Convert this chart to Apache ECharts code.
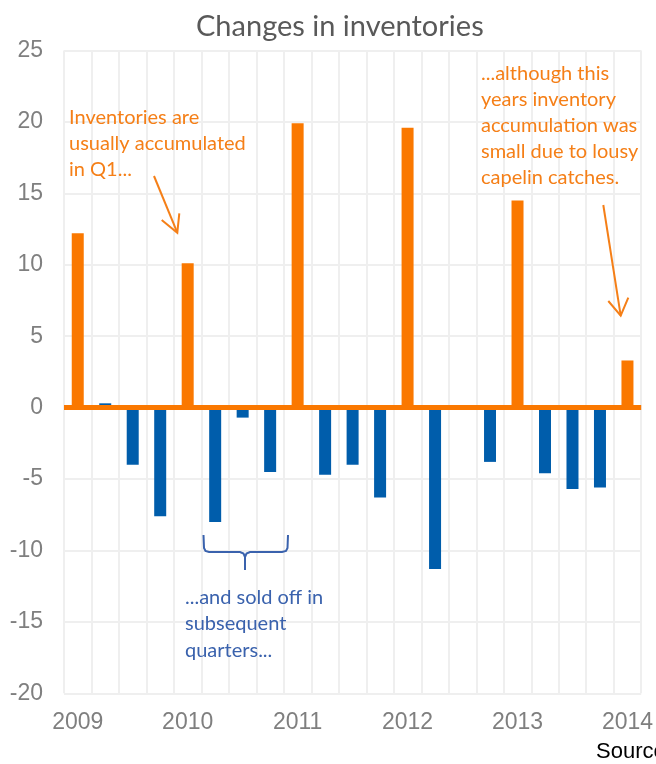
<!DOCTYPE html>
<html>
<head>
<meta charset="utf-8">
<script src="https://cdn.jsdelivr.net/npm/echarts@6/dist/echarts.min.js"></script>
<style>html,body{margin:0;padding:0;background:#fff;}#c{width:656px;height:764px;}</style>
</head>
<body>
<div id="c"></div>
<script>
// Quarters 2009 Q1 .. 2014 Q1
const quarters = ['2009 Q1','2009 Q2','2009 Q3','2009 Q4','2010 Q1','2010 Q2','2010 Q3','2010 Q4','2011 Q1','2011 Q2','2011 Q3','2011 Q4','2012 Q1','2012 Q2','2012 Q3','2012 Q4','2013 Q1','2013 Q2','2013 Q3','2013 Q4','2014 Q1'];
const changes = [12.2, 0.3, -4.0, -7.6, 10.1, -8.0, -0.7, -4.5, 19.9, -4.7, -4.0, -6.3, 19.6, -11.3, 0, -3.8, 14.5, -4.6, -5.7, -5.6, 3.3];
const yTicks = [-20, -15, -10, -5, 0, 5, 10, 15, 20, 25];
const titleText = 'Changes in inventories';
const noteQ1 = 'Inventories are\nusually accumulated\nin Q1...';
const noteSold = '...and sold off in\nsubsequent\nquarters...';
const note2014 = '...although this\nyears inventory\naccumulation was\nsmall due to lousy\ncapelin catches.';
const sourceText = 'Source: Statistics Iceland';

const ORANGE = '#fa7800';
const BLUE = '#005dab';
const TXT_OR = '#f57f17';
const TXT_BL = '#3a62ad';

const chart = echarts.init(document.getElementById('c'), null, {renderer: 'canvas'});
chart.setOption({
  animation: false,
  backgroundColor: '#fff',
  title: {
    text: titleText, left: 191, top: 7,
    textStyle: {fontFamily: 'Lato', fontSize: 29, fontWeight: 'normal', color: '#595959'}
  },
  grid: {left: 64, right: 13, top: 50.5, bottom: 70.7, containLabel: false},
  xAxis: {
    type: 'category', data: quarters, boundaryGap: true,
    axisLine: {show: false}, axisTick: {show: false},
    axisLabel: {
      interval: 0, margin: 18, color: '#7f7f7f', fontSize: 23, fontFamily: 'Liberation Sans, Arial',
      formatter: v => v.endsWith('Q1') ? v.slice(0, 4) : ''
    },
    splitLine: {show: true, interval: 0, lineStyle: {color: '#efefef', width: 2}}
  },
  yAxis: {
    type: 'value', min: yTicks[0], max: yTicks[yTicks.length - 1], interval: 5,
    axisLine: {show: false}, axisTick: {show: false},
    axisLabel: {margin: 21, color: '#7f7f7f', fontSize: 23, fontFamily: 'Liberation Sans, Arial'},
    splitLine: {show: true, lineStyle: {color: '#efefef', width: 2}}
  },
  series: [{
    type: 'bar', barWidth: 12,
    data: changes.map((v, i) => ({value: v, itemStyle: {color: quarters[i].endsWith('Q1') ? ORANGE : BLUE}})),
    markLine: {
      silent: true, symbol: 'none', label: {show: false},
      lineStyle: {color: ORANGE, width: 5, type: 'solid'},
      data: [{yAxis: 0}]
    }
  }],
  graphic: [
    {type: 'text', z: 100, x: 69, y: 105, style: {text: noteQ1, fill: TXT_OR, font: '20px Lato', lineHeight: 26, verticalAlign: 'top'}},
    {type: 'text', z: 100, x: 481, y: 61, style: {text: note2014, fill: TXT_OR, font: '20px Lato', lineHeight: 26, verticalAlign: 'top'}},
    {type: 'text', z: 100, x: 185, y: 584, style: {text: noteSold, fill: TXT_BL, font: '20px Lato', lineHeight: 26.5, verticalAlign: 'top'}},
    {type: 'text', z: 100, x: 596, y: 741, style: {text: sourceText, fill: '#000', font: '22px "Liberation Sans", Arial', verticalAlign: 'top'}},
    // arrow 1
    {type: 'polyline', z: 100, shape: {points: [[154, 176], [177.3, 232.7]]}, style: {stroke: TXT_OR, lineWidth: 2, fill: null}},
    {type: 'polyline', z: 100, shape: {points: [[161.7, 220], [177.3, 232.7], [179.3, 213.3]]}, style: {stroke: TXT_OR, lineWidth: 2, fill: null}},
    // arrow 2
    {type: 'polyline', z: 100, shape: {points: [[603.3, 205], [620.7, 315.7]]}, style: {stroke: TXT_OR, lineWidth: 2, fill: null}},
    {type: 'polyline', z: 100, shape: {points: [[608.3, 301], [620.7, 315.7], [628.3, 297.7]]}, style: {stroke: TXT_OR, lineWidth: 2, fill: null}},
    // brace
    {type: 'polyline', z: 100, shape: {points: [[203.5, 535], [204, 548], [205.5, 551], [209, 552], [240, 552], [243.5, 553.5], [245, 557], [245, 570]]},
     style: {stroke: TXT_BL, lineWidth: 2, fill: null}},
    {type: 'polyline', z: 100, shape: {points: [[245, 557], [246.5, 553.5], [250, 552], [282, 552], [286, 551], [287.5, 548], [288, 535]]},
     style: {stroke: TXT_BL, lineWidth: 2, fill: null}}
  ]
});
</script>
</body>
</html>
